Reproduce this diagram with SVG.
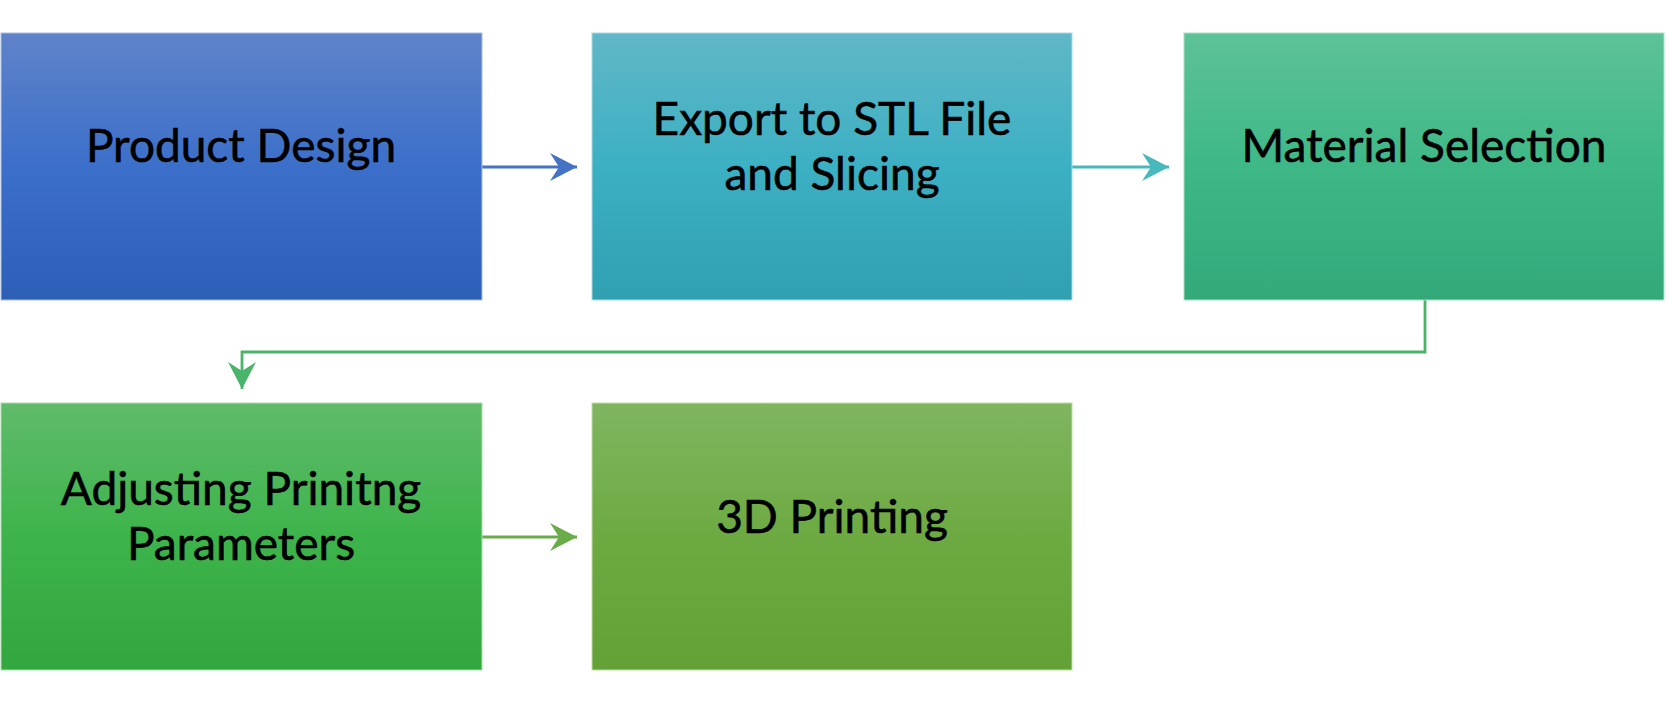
<svg xmlns="http://www.w3.org/2000/svg" width="1672" height="710" viewBox="0 0 1672 710">
<style>
.lbl{font-family:Lato,"Open Sans","Liberation Sans",sans-serif;font-size:46px;fill:#000;stroke:#000;stroke-width:0.6;text-anchor:middle}
.conn{fill:none;stroke-width:2.8}
</style>
<defs>
<linearGradient id="g1" x1="0" y1="0" x2="0" y2="1"><stop offset="0" stop-color="#5f83c9"/><stop offset="0.5" stop-color="#3c6fca"/><stop offset="1" stop-color="#2e5fb7"/></linearGradient>
<linearGradient id="g2" x1="0" y1="0" x2="0" y2="1"><stop offset="0" stop-color="#60b7c7"/><stop offset="0.5" stop-color="#3cb0c3"/><stop offset="1" stop-color="#30a0b1"/></linearGradient>
<linearGradient id="g3" x1="0" y1="0" x2="0" y2="1"><stop offset="0" stop-color="#5dc297"/><stop offset="0.5" stop-color="#3eb887"/><stop offset="1" stop-color="#33a97a"/></linearGradient>
<linearGradient id="g4" x1="0" y1="0" x2="0" y2="1"><stop offset="0" stop-color="#60bb6b"/><stop offset="0.5" stop-color="#3db44b"/><stop offset="1" stop-color="#33a63f"/></linearGradient>
<linearGradient id="g5" x1="0" y1="0" x2="0" y2="1"><stop offset="0" stop-color="#80b560"/><stop offset="0.5" stop-color="#6daa42"/><stop offset="1" stop-color="#63a035"/></linearGradient>
<marker id="a1" markerUnits="userSpaceOnUse" markerWidth="30" markerHeight="32" refX="28" refY="15" orient="auto"><path d="M28,15 L1,1 L10,15 L1,29 Z" fill="#4472c4"/></marker>
<marker id="a2" markerUnits="userSpaceOnUse" markerWidth="30" markerHeight="32" refX="28" refY="15" orient="auto"><path d="M28,15 L1,1 L10,15 L1,29 Z" fill="#47b9bd"/></marker>
<marker id="a3" markerUnits="userSpaceOnUse" markerWidth="30" markerHeight="32" refX="28" refY="15" orient="auto"><path d="M28,15 L1,1 L10,15 L1,29 Z" fill="#4bb46b"/></marker>
<marker id="a4" markerUnits="userSpaceOnUse" markerWidth="30" markerHeight="32" refX="28" refY="15" orient="auto"><path d="M28,15 L1,1 L10,15 L1,29 Z" fill="#6aab4a"/></marker>
</defs>
<rect width="1672" height="710" fill="#fff"/>
<g id="connectors">
<path class="conn" d="M482,167 H577" stroke="#4472c4" marker-end="url(#a1)"/>
<path class="conn" d="M1072,167 H1169" stroke="#47b9bd" marker-end="url(#a2)"/>
<path class="conn" d="M1425,300 V352 H242 V389" stroke="#4bb46b" marker-end="url(#a3)"/>
<path class="conn" d="M482,537 H577" stroke="#6aab4a" marker-end="url(#a4)"/>
</g>
<g id="node-product-design">
<rect x="1" y="33" width="481" height="267" fill="url(#g1)" stroke="#a9bde6" stroke-width="1"/>
<text class="lbl" x="241" y="162">Product Design</text>
</g>
<g id="node-export-stl">
<rect x="592" y="33" width="480" height="267" fill="url(#g2)" stroke="#a8dbe3" stroke-width="1"/>
<text class="lbl" x="832" y="135">Export to STL File</text>
<text class="lbl" x="832" y="190">and Slicing</text>
</g>
<g id="node-material-selection">
<rect x="1184" y="33" width="480" height="267" fill="url(#g3)" stroke="#a8e0c6" stroke-width="1"/>
<text class="lbl" x="1424" y="162">Material Selection</text>
</g>
<g id="node-adjusting-parameters">
<rect x="1" y="403" width="481" height="267" fill="url(#g4)" stroke="#a8dcae" stroke-width="1"/>
<text class="lbl" x="241" y="505">Adjusting Prinitng</text>
<text class="lbl" x="241" y="560">Parameters</text>
</g>
<g id="node-3d-printing">
<rect x="592" y="403" width="480" height="267" fill="url(#g5)" stroke="#c0dca9" stroke-width="1"/>
<text class="lbl" x="832" y="533">3D Printing</text>
</g>
</svg>
